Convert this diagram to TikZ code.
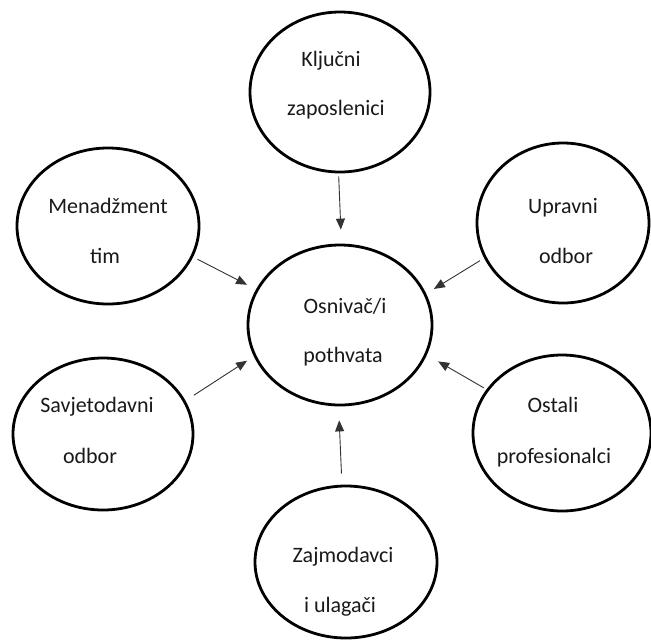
\documentclass[tikz,border=0pt]{standalone}
\usepackage{fontspec}
\setmainfont{Carlito}
\usetikzlibrary{arrows.meta,shapes.geometric}
\begin{document}
\begin{tikzpicture}[x=1pt,y=-1pt,
  bubble/.style={ellipse,draw=black,line width=2.8pt,inner sep=0pt},
  lbl/.style={anchor=base,inner sep=0pt,font=\fontsize{22}{26}\selectfont,text=black!90},
  arr/.style={draw=black!80,line width=0.9pt,-{Triangle[length=11pt,width=9pt]}}]
\useasboundingbox (0,0) rectangle (651,641);
% ellipses
\node[bubble,minimum width=180pt,minimum height=160pt] (k) at (340,92) {};
\node[bubble,minimum width=182pt,minimum height=156pt] (m) at (108,226) {};
\node[bubble,minimum width=172pt,minimum height=160pt] (u) at (563,223) {};
\node[bubble,minimum width=184pt,minimum height=160pt] (c) at (340,325) {};
\node[bubble,minimum width=180pt,minimum height=152pt] (s) at (103,434) {};
\node[bubble,minimum width=178pt,minimum height=156pt] (o) at (562,433) {};
\node[bubble,minimum width=182pt,minimum height=152pt] (z) at (346,562) {};
% texts
\node[lbl] (k1) at (331,66) {Ključni};
\node[lbl] (k2) at (336,115) {zaposlenici};
\node[lbl] (m1) at (108,213) {Menadžment};
\node[lbl] (m2) at (105,263) {tim};
\node[lbl] (u1) at (563,213) {Upravni};
\node[lbl] (u2) at (566,263) {odbor};
\node[lbl] (c1) at (345,313) {Osnivač/i};
\node[lbl] (c2) at (343,362) {pothvata};
\node[lbl] (s1) at (97,412) {Savjetodavni};
\node[lbl] (s2) at (90,463) {odbor};
\node[lbl] (o1) at (553,412) {Ostali};
\node[lbl] (o2) at (554,463) {profesionalci};
\node[lbl] (z1) at (343,562) {Zajmodavci};
\node[lbl] (z2) at (340,612) {i ulagači};
% arrows
\draw[arr,shorten <=3pt,shorten >=14pt] (k.-91) -- (c.89);
\draw[arr,shorten <=5pt,shorten >=10pt] (m.-20) -- (c.157);
\draw[arr,shorten <=5pt,shorten >=9pt] (u.204) -- (c.20);
\draw[arr,shorten <=10pt,shorten >=8pt] (s.22) -- (c.200);
\draw[arr,shorten <=3pt,shorten >=13pt] (o.150) -- (c.-19);
\draw[arr,shorten <=11pt,shorten >=14pt] (z.93) -- (c.-91);
\end{tikzpicture}
\end{document}
